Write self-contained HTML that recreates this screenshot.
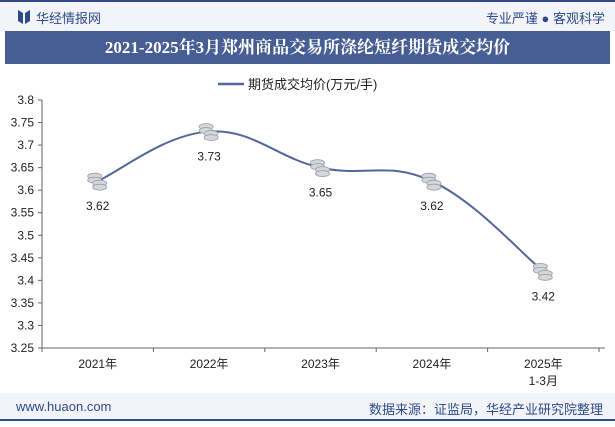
<!DOCTYPE html>
<html><head><meta charset="utf-8"><style>
body{margin:0;width:615px;height:427px;overflow:hidden;background:#fff;font-family:"Liberation Sans","Noto Sans CJK SC",sans-serif;position:relative}
.hdr{position:absolute;left:0;top:0;width:615px;height:31px;background:#f2f4f9;border-top:2px solid #2e4a8a;box-sizing:border-box}
.title{position:absolute;left:5px;top:31px;width:605px;height:33px;background:#475e94;color:#fff;font-family:"Liberation Serif","Noto Serif CJK SC",serif;font-weight:bold;font-size:17px;line-height:33px;text-align:center}
.ftr{position:absolute;left:0;top:393px;width:615px;height:28px;background:#f2f4f9;border-bottom:2px solid #2e4a8a;box-sizing:border-box}
</style></head><body>
<div class="hdr">
 <svg style="position:absolute;left:18px;top:8px" width="12" height="14"><path d="M0 0L5 3V14L0 11Z M12 0L7 3V14L12 11Z" fill="#2e4a8a"/></svg>
 <span style="position:absolute;left:36px;top:6px;font-size:13px;color:#2e4a8a">华经情报网</span>
 <span style="position:absolute;right:10px;top:6px;font-size:13px;color:#2e4a8a">专业严谨 ● 客观科学</span>
</div>
<div class="title">2021-2025年3月郑州商品交易所涤纶短纤期货成交均价</div>
<div class="ftr">
 <span style="position:absolute;left:16px;top:6px;font-size:13px;color:#2e4a8a">www.huaon.com</span>
 <span style="position:absolute;right:12px;top:6px;font-size:13px;color:#2e4a8a">数据来源：证监局，华经产业研究院整理</span>
</div>
<svg id="chart" style="position:absolute;left:0;top:0" width="615" height="427"></svg>
<script>
const categories=["2021年","2022年","2023年","2024年","2025年\n1-3月"];
const values=[3.62,3.73,3.65,3.62,3.42];
const yTicks=[3.25,3.3,3.35,3.4,3.45,3.5,3.55,3.6,3.65,3.7,3.75,3.8];
const yTickLabels=["3.25","3.3","3.35","3.4","3.45","3.5","3.55","3.6","3.65","3.7","3.75","3.8"];
const valueLabels=["3.62","3.73","3.65","3.62","3.42"];
const NS="http://www.w3.org/2000/svg";
const svg=document.getElementById('chart');
const X0=42,X1=599,Y0=348,Y1=100,ymin=3.25,ymax=3.8;
const band=(X1-X0)/categories.length;
const xPos=i=>X0+band*(i+0.5);
const yPos=v=>Y0-(v-ymin)/(ymax-ymin)*(Y0-Y1);
function mk(t,a,txt){const e=document.createElementNS(NS,t);for(const k in a)e.setAttribute(k,a[k]);if(txt!=null)e.textContent=txt;svg.appendChild(e);return e;}
// axes
let ax=mk('line',{x1:X0,y1:Y1,x2:X0,y2:Y0,stroke:'#666','stroke-width':1});


let bx=mk('line',{x1:X0,y1:Y0,x2:X1+6,y2:Y0,stroke:'#666','stroke-width':1});


yTicks.forEach((v,i)=>{
 const y=yPos(v);
 const tk=mk('line',{x1:X0-4,y1:y,x2:X0,y2:y,stroke:'#666'});
 
 
 const t=mk('text',{x:34,y:y+4,'text-anchor':'end','font-size':12,fill:'#222'},yTickLabels[i]);
 
 
});
for(let i=0;i<=categories.length;i++){
 const x=X0+band*i;
 const tk=mk('line',{x1:x,y1:Y0,x2:x,y2:Y0+4,stroke:'#666'});
 
 
}
categories.forEach((c,i)=>{
 c.split('\n').forEach((ln,j)=>{
  const t=mk('text',{x:xPos(i),y:368+j*17,'text-anchor':'middle','font-size':12,fill:'#222'},ln);
  
  
 });
});
// smooth line
const pts=values.map((v,i)=>[xPos(i),yPos(v)]);
let d='M'+pts[0][0]+' '+pts[0][1];
for(let i=0;i<pts.length-1;i++){
 const p0=pts[i-1]||pts[i],p1=pts[i],p2=pts[i+1],p3=pts[i+2]||p2,k=0.2;
 d+=' C'+(p1[0]+(p2[0]-p0[0])*k)+' '+(p1[1]+(p2[1]-p0[1])*k)+' '+(p2[0]-(p3[0]-p1[0])*k)+' '+(p2[1]-(p3[1]-p1[1])*k)+' '+p2[0]+' '+p2[1];
}
const line=mk('path',{d:d,fill:'none',stroke:'#52679a','stroke-width':2});


pts.forEach((p,i)=>{
 const g=document.createElementNS(NS,'g');svg.appendChild(g);
 
 
 [[-3,-5],[-3,-1],[2,2],[2,6]].forEach(o=>{
  const e=document.createElementNS(NS,'ellipse');
  e.setAttribute('cx',p[0]+o[0]);e.setAttribute('cy',p[1]+o[1]);e.setAttribute('rx',7);e.setAttribute('ry',3);
  e.setAttribute('fill','#d4d6dc');e.setAttribute('stroke','#9a9ca4');e.setAttribute('stroke-width',0.8);
  g.appendChild(e);
 });
 const t=mk('text',{x:p[0],y:p[1]+29,'text-anchor':'middle','font-size':12,fill:'#222'},valueLabels[i]);
 
 
});
// legend
const lg=mk('line',{x1:218,y1:84,x2:244,y2:84,stroke:'#52679a','stroke-width':2.5});


const lt=mk('text',{x:248,y:89,'font-size':13,fill:'#222'},'期货成交均价(万元/手)');


</script>
</body></html>
